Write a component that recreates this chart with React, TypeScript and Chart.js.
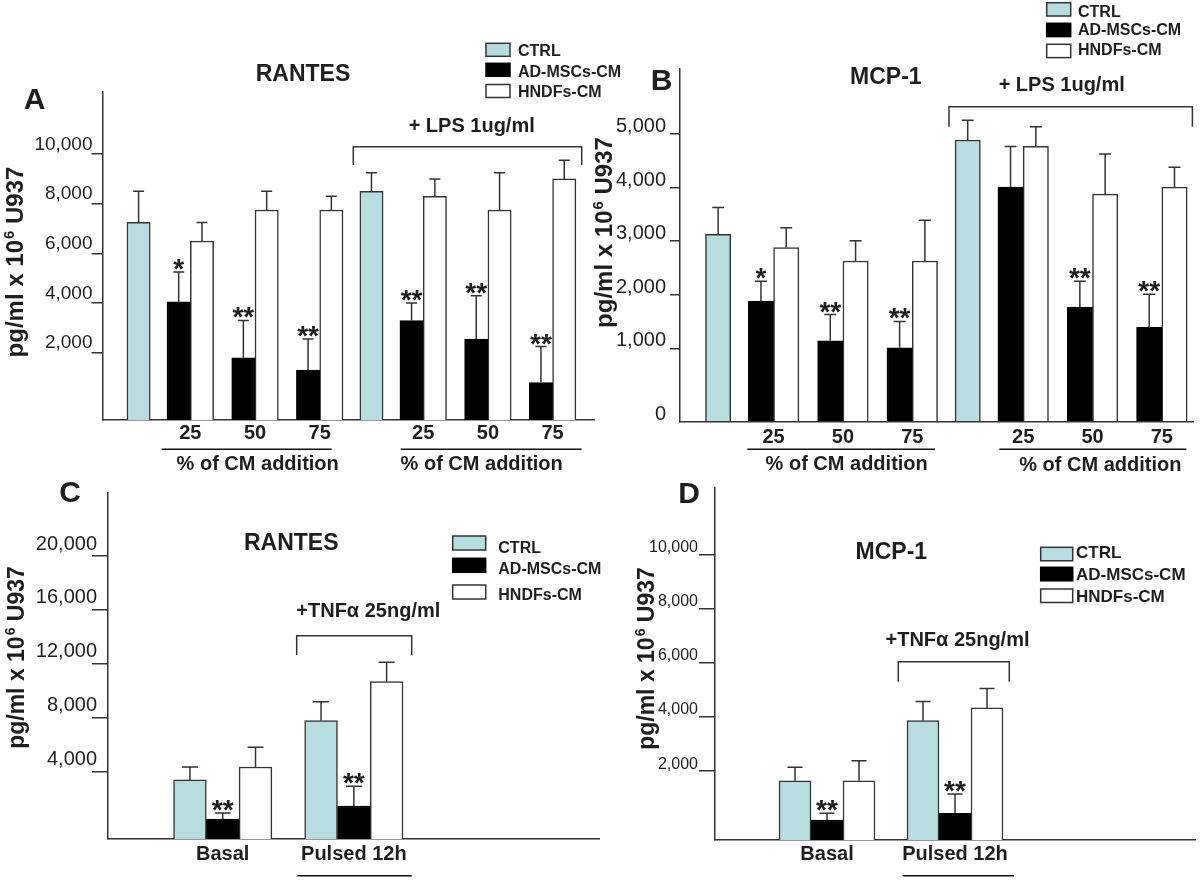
import React, { useEffect, useRef } from "react";
import { Chart, registerables } from "chart.js";

Chart.register(...registerables);

const FONT = "'Liberation Sans', Arial, Helvetica, sans-serif";
const INK = "#1e1e1e";
const AXIS = "#333333";
const CTRL_FILL = "#b7dde0";

const SERIES_NAMES = ["CTRL", "AD-MSCs-CM", "HNDFs-CM"];

// ---------- Panel A: RANTES (basal / + LPS) ----------
const A_CM_LABELS = ["25", "50", "75"];
const A_CTRL = [7250, 8500];
const A_CTRL_SD = [1250, 750];
const A_ADMSC = [4050, 1800, 1300, 3300, 2550, 800];
const A_ADMSC_SD = [1200, 1500, 1250, 700, 1750, 1450];
const A_HNDF = [6500, 7750, 7750, 8300, 7750, 9000];
const A_HNDF_SD = [750, 750, 550, 700, 1500, 750];
const A_SIG = ["*", "**", "**", "**", "**", "**"];
const A_Y_TICKS = [2000, 4000, 6000, 8000, 10000];

// ---------- Panel B: MCP-1 (basal / + LPS) ----------
const B_CM_LABELS = ["25", "50", "75"];
const B_CTRL = [3130, 4890];
const B_CTRL_SD = [500, 370];
const B_ADMSC = [1880, 1140, 1010, 4010, 1770, 1390];
const B_ADMSC_SD = [370, 490, 490, 760, 480, 620];
const B_HNDF = [2880, 2630, 2630, 4770, 3880, 4010];
const B_HNDF_SD = [370, 380, 760, 370, 750, 370];
const B_SIG = ["*", "**", "**", "", "**", "**"];
const B_Y_TICKS = [1000, 2000, 3000, 4000, 5000];

// ---------- Panel C: RANTES (TNFa) ----------
const C_GROUPS = ["Basal", "Pulsed 12h"];
const C_CTRL = [3370, 7770];
const C_CTRL_SD = [960, 1410];
const C_ADMSC = [470, 1430];
const C_ADMSC_SD = [440, 1470];
const C_HNDF = [4330, 10670];
const C_HNDF_SD = [1470, 1440];
const C_SIG = ["**", "**"];
const C_Y_TICKS = [4000, 8000, 12000, 16000, 20000];

// ---------- Panel D: MCP-1 (TNFa) ----------
const D_GROUPS = ["Basal", "Pulsed 12h"];
const D_CTRL = [1650, 3870];
const D_CTRL_SD = [500, 710];
const D_ADMSC = [200, 450];
const D_ADMSC_SD = [250, 710];
const D_HNDF = [1650, 4340];
const D_HNDF_SD = [740, 720];
const D_SIG = ["**", "**"];
const D_Y_TICKS = [2000, 4000, 6000, 8000, 10000];

type Cell = number | null;
type Slots = {
  labels: string[];
  ctrl: Cell[]; ctrlSd: Cell[];
  ad: Cell[]; adSd: Cell[];
  hndf: Cell[]; hndfSd: Cell[];
  sig: (string | null)[];
};

function emptySlots(n: number): Slots {
  const mk = () => new Array(n).fill(null);
  return {
    labels: new Array(n).fill(""),
    ctrl: mk(), ctrlSd: mk(), ad: mk(), adSd: mk(), hndf: mk(), hndfSd: mk(), sig: mk(),
  };
}

// layout grid: a CTRL bar, then pairs of (AD, HNDF) bars for each % of CM
function buildLpsSlots(n: number, first: number, cm: string[], ctrl: number[], ctrlSd: number[],
  ad: number[], adSd: number[], hndf: number[], hndfSd: number[], sig: string[]): Slots {
  const s = emptySlots(n);
  let idx = first;
  let k = 0;
  for (let b = 0; b < ctrl.length; b++) {
    s.ctrl[idx] = ctrl[b];
    s.ctrlSd[idx] = ctrlSd[b];
    idx += 8;
    for (let j = 0; j < cm.length; j++) {
      s.labels[idx] = cm[j];
      s.ad[idx] = ad[k]; s.adSd[idx] = adSd[k];
      s.hndf[idx] = hndf[k]; s.hndfSd[idx] = hndfSd[k];
      s.sig[idx] = sig[k] || null;
      k++;
      idx += j < cm.length - 1 ? 10 : 8;
    }
  }
  return s;
}

function buildGroupSlots(n: number, first: number, step: number, groups: string[], ctrl: number[], ctrlSd: number[],
  ad: number[], adSd: number[], hndf: number[], hndfSd: number[], sig: string[]): Slots {
  const s = emptySlots(n);
  groups.forEach((g, i) => {
    const idx = first + i * step;
    s.labels[idx] = g;
    s.ctrl[idx] = ctrl[i]; s.ctrlSd[idx] = ctrlSd[i];
    s.ad[idx] = ad[i]; s.adSd[idx] = adSd[i];
    s.hndf[idx] = hndf[i]; s.hndfSd[idx] = hndfSd[i];
    s.sig[idx] = sig[i] || null;
  });
  return s;
}

type PanelCfg = {
  key: string;
  canvas: { x: number; y: number; w: number; h: number };
  area: { L: number; T: number; B: number; unit: number; n: number };
  slots: Slots;
  yMin: number; yMax: number; yTicks: number[]; zeroAtMin: boolean;
  barThickness: number;
  yTickFont: number; yTickLH: number; yTickLen: number; yTickPad: number;
  xFont: number; xPad: number;
  cap: number;
  letter: { t: string; x: number; y: number };
  title: { t: string; x: number; y: number };
  legend: { bx: number; bw: number; bh: number; tops: number[]; tx: number; ty: number[]; font: number };
  bracket: { x1: number; x2: number; y: number; y2: number };
  cond: { t: string; x: number; y: number };
  underlines: { x1: number; x2: number; y: number }[];
  underTexts: { t: string; x: number; y: number }[];
  yTitle: { x: number; y: number; size: number };
  sigFont: number;
};

function fmt(v: number) {
  return v.toLocaleString("en-US");
}

function drawText(ctx: CanvasRenderingContext2D, s: string, x: number, y: number, size: number,
  bold: boolean, align: CanvasTextAlign = "center", baseline: CanvasTextBaseline = "middle") {
  ctx.font = `${bold ? "bold " : ""}${size}px ${FONT}`;
  ctx.textAlign = align;
  ctx.textBaseline = baseline;
  ctx.fillStyle = INK;
  ctx.fillText(s, x, y);
}

function makePlugin(p: PanelCfg) {
  const ox = p.canvas.x, oy = p.canvas.y;
  return {
    id: "annot" + p.key,
    afterDatasetsDraw(chart: any) {
      const ctx: CanvasRenderingContext2D = chart.ctx;
      const yScale = chart.scales.y;
      const sds = [p.slots.ctrlSd, p.slots.adSd, p.slots.hndfSd];
      ctx.save();
      ctx.strokeStyle = AXIS;
      ctx.lineWidth = 1.5;
      chart.data.datasets.forEach((ds: any, di: number) => {
        const meta = chart.getDatasetMeta(di);
        meta.data.forEach((el: any, i: number) => {
          const v = ds.data[i];
          const sd = sds[di][i];
          if (v == null || sd == null) return;
          const x = el.x;
          const yTop = yScale.getPixelForValue(v + sd);
          ctx.beginPath();
          ctx.moveTo(x, el.y);
          ctx.lineTo(x, yTop);
          ctx.moveTo(x - p.cap, yTop);
          ctx.lineTo(x + p.cap, yTop);
          ctx.stroke();
          if (di === 1 && p.slots.sig[i]) {
            drawText(ctx, p.slots.sig[i] as string, x, yTop + 6, p.sigFont, true, "center", "alphabetic");
          }
        });
      });
      ctx.restore();
    },
    afterDraw(chart: any) {
      const ctx: CanvasRenderingContext2D = chart.ctx;
      ctx.save();
      // panel letter and title
      drawText(ctx, p.letter.t, p.letter.x - ox, p.letter.y - oy, 30, true);
      drawText(ctx, p.title.t, p.title.x - ox, p.title.y - oy, 23, true);
      // legend
      const fills = [CTRL_FILL, "#000000", "#ffffff"];
      SERIES_NAMES.forEach((name, i) => {
        const bx = p.legend.bx - ox, by = p.legend.tops[i] - oy;
        ctx.fillStyle = fills[i];
        ctx.fillRect(bx, by, p.legend.bw, p.legend.bh);
        ctx.strokeStyle = i === 1 ? "#000" : AXIS;
        ctx.lineWidth = 1.5;
        ctx.strokeRect(bx, by, p.legend.bw, p.legend.bh);
        drawText(ctx, name, p.legend.tx - ox, p.legend.ty[i] - oy, p.legend.font, true, "left");
      });
      // bracket + condition
      ctx.strokeStyle = AXIS;
      ctx.lineWidth = 1.5;
      const b = p.bracket;
      ctx.beginPath();
      ctx.moveTo(b.x1 - ox, b.y2 - oy);
      ctx.lineTo(b.x1 - ox, b.y - oy);
      ctx.lineTo(b.x2 - ox, b.y - oy);
      ctx.lineTo(b.x2 - ox, b.y2 - oy);
      ctx.stroke();
      drawText(ctx, p.cond.t, p.cond.x - ox, p.cond.y - oy, 20, true);
      // underlines and texts below the axis
      ctx.strokeStyle = "#111";
      p.underlines.forEach((u) => {
        ctx.beginPath();
        ctx.moveTo(u.x1 - ox, u.y - oy);
        ctx.lineTo(u.x2 - ox, u.y - oy);
        ctx.stroke();
      });
      p.underTexts.forEach((t) => drawText(ctx, t.t, t.x - ox, t.y - oy, 20, true));
      // rotated y title with superscript
      const yt = p.yTitle;
      ctx.translate(yt.x - ox, yt.y - oy);
      ctx.rotate(-Math.PI / 2);
      const s1 = "pg/ml x 10", s2 = "6", s3 = " U937";
      const big = `bold ${yt.size}px ${FONT}`;
      const small = `bold ${Math.round(yt.size * 0.62)}px ${FONT}`;
      ctx.font = big;
      const w1 = ctx.measureText(s1).width;
      const w3 = ctx.measureText(s3).width;
      ctx.font = small;
      const w2 = ctx.measureText(s2).width;
      let x = -(w1 + w2 + w3) / 2;
      ctx.fillStyle = INK;
      ctx.textAlign = "left";
      ctx.textBaseline = "alphabetic";
      ctx.font = big;
      ctx.fillText(s1, x, 0);
      x += w1;
      ctx.font = small;
      ctx.fillText(s2, x + 1, -yt.size * 0.38);
      x += w2 + 1;
      ctx.font = big;
      ctx.fillText(s3, x, 0);
      ctx.restore();
    },
  };
}

function makeConfig(p: PanelCfg): any {
  const s = p.slots;
  const R = p.area.L + p.area.n * p.area.unit;
  const common = { barThickness: p.barThickness, skipNull: true, borderWidth: 1.5, borderSkipped: "start", base: p.yMin };
  return {
    type: "bar",
    data: {
      labels: s.labels,
      datasets: [
        { label: SERIES_NAMES[0], data: s.ctrl, backgroundColor: CTRL_FILL, borderColor: AXIS, ...common },
        { label: SERIES_NAMES[1], data: s.ad, backgroundColor: "#000000", borderColor: "#000000", ...common },
        { label: SERIES_NAMES[2], data: s.hndf, backgroundColor: "#ffffff", borderColor: AXIS, ...common },
      ],
    },
    options: {
      responsive: false,
      maintainAspectRatio: false,
      animation: false,
      devicePixelRatio: 1,
      events: [],
      layout: {
        padding: { left: 0, top: p.area.T - p.canvas.y, right: p.canvas.x + p.canvas.w - R, bottom: 0 },
      },
      plugins: { legend: { display: false }, tooltip: { enabled: false }, title: { display: false } },
      scales: {
        x: {
          type: "category",
          offset: true,
          grid: { display: false, drawTicks: false },
          border: { display: true, color: AXIS, width: 1.5 },
          ticks: {
            autoSkip: false, maxRotation: 0, minRotation: 0, padding: p.xPad, color: INK,
            font: { family: FONT, size: p.xFont, weight: "bold", lineHeight: 1.2 },
          },
          afterFit: (sc: any) => {
            sc.height = p.canvas.y + p.canvas.h - p.area.B;
            sc.paddingLeft = 0; sc.paddingRight = 0;
          },
        },
        y: {
          type: "linear",
          min: p.yMin,
          max: p.yMax,
          grid: {
            display: true, drawOnChartArea: false, drawTicks: true, tickLength: p.yTickLen, lineWidth: 1.5,
            color: (c: any) => (c.tick && c.tick.value === p.yMin ? "rgba(0,0,0,0)" : AXIS),
          },
          border: { display: true, color: AXIS, width: 1.5 },
          afterBuildTicks: (sc: any) => {
            const vals = p.zeroAtMin ? [p.yMin, ...p.yTicks] : p.yTicks;
            sc.ticks = vals.map((v) => ({ value: v }));
          },
          ticks: {
            autoSkip: false, padding: p.yTickPad, color: INK,
            font: { family: FONT, size: p.yTickFont, lineHeight: p.yTickLH },
            callback: (v: number) => [v === p.yMin ? "0" : fmt(v), ""],
          },
          afterFit: (sc: any) => {
            sc.width = p.area.L - p.canvas.x;
            sc.paddingTop = 0; sc.paddingBottom = 0;
          },
        },
      },
    },
    plugins: [makePlugin(p)],
  };
}

const PANELS: PanelCfg[] = [
  {
    key: "A",
    canvas: { x: 0, y: 0, w: 640, h: 480 },
    area: { L: 103, T: 92, B: 420, unit: 6.469, n: 76 },
    slots: buildLpsSlots(76, 5, A_CM_LABELS, A_CTRL, A_CTRL_SD, A_ADMSC, A_ADMSC_SD, A_HNDF, A_HNDF_SD, A_SIG),
    yMin: -708, yMax: 12500, yTicks: A_Y_TICKS, zeroAtMin: false,
    barThickness: 23.3,
    yTickFont: 19, yTickLH: 1.0, yTickLen: 11.5, yTickPad: -1,
    xFont: 20, xPad: 1, cap: 5.5,
    letter: { t: "A", x: 34.5, y: 101 },
    title: { t: "RANTES", x: 303, y: 75 },
    legend: { bx: 486, bw: 24, bh: 13, tops: [43.3, 63.3, 84.5], tx: 518, ty: [52, 72.5, 92.5], font: 16 },
    bracket: { x1: 353.3, x2: 581.7, y: 146.7, y2: 165 },
    cond: { t: "+ LPS 1ug/ml", x: 471.7, y: 126 },
    underlines: [{ x1: 161.7, x2: 331.7, y: 449.3 }, { x1: 400.7, x2: 581.7, y: 449.3 }],
    underTexts: [{ t: "% of CM addition", x: 257.7, y: 464 }, { t: "% of CM addition", x: 481.7, y: 464 }],
    yTitle: { x: 23, y: 262.5, size: 24 },
    sigFont: 28,
  },
  {
    key: "B",
    canvas: { x: 580, y: 0, w: 620, h: 480 },
    area: { L: 680, T: 68.3, B: 421.7, unit: 6.933, n: 74 },
    slots: buildLpsSlots(74, 5, B_CM_LABELS, B_CTRL, B_CTRL_SD, B_ADMSC, B_ADMSC_SD, B_HNDF, B_HNDF_SD, B_SIG),
    yMin: -372, yMax: 6230, yTicks: B_Y_TICKS, zeroAtMin: true,
    barThickness: 25.3,
    yTickFont: 20, yTickLH: 0.75, yTickLen: 10, yTickPad: 4,
    xFont: 20, xPad: 4, cap: 6,
    letter: { t: "B", x: 661.7, y: 81.7 },
    title: { t: "MCP-1", x: 885.8, y: 77.5 },
    legend: { bx: 1046.7, bw: 24, bh: 13.3, tops: [2.7, 23.3, 44.3], tx: 1078, ty: [12.5, 30.5, 50.5], font: 16 },
    bracket: { x1: 949, x2: 1192.4, y: 106.7, y2: 126.7 },
    cond: { t: "+ LPS 1ug/ml", x: 1061.7, y: 85.5 },
    underlines: [{ x1: 747.3, x2: 935, y: 449.3 }, { x1: 999.3, x2: 1186.3, y: 449.3 }],
    underTexts: [{ t: "% of CM addition", x: 846.7, y: 464 }, { t: "% of CM addition", x: 1100.3, y: 465 }],
    yTitle: { x: 612, y: 233, size: 24 },
    sigFont: 28,
  },
  {
    key: "C",
    canvas: { x: 0, y: 480, w: 640, h: 402 },
    area: { L: 108, T: 492.7, B: 839, unit: 32.78, n: 15 },
    slots: buildGroupSlots(15, 3, 4, C_GROUPS, C_CTRL, C_CTRL_SD, C_ADMSC, C_ADMSC_SD, C_HNDF, C_HNDF_SD, C_SIG),
    yMin: -1018, yMax: 24700, yTicks: C_Y_TICKS, zeroAtMin: false,
    barThickness: 32.78,
    yTickFont: 20, yTickLH: 1.2, yTickLen: 16, yTickPad: -5,
    xFont: 20, xPad: 3, cap: 8,
    letter: { t: "C", x: 70, y: 494 },
    title: { t: "RANTES", x: 291.2, y: 543.3 },
    legend: { bx: 452.7, bw: 33, bh: 14, tops: [536, 558.3, 585], tx: 498.3, ty: [548.5, 570, 596], font: 16 },
    bracket: { x1: 296.7, x2: 411.7, y: 635.7, y2: 655 },
    cond: { t: "+TNFα 25ng/ml", x: 368.3, y: 611 },
    underlines: [{ x1: 297.3, x2: 411.7, y: 875.7 }],
    underTexts: [],
    yTitle: { x: 24, y: 658, size: 23 },
    sigFont: 28,
  },
  {
    key: "D",
    canvas: { x: 600, y: 480, w: 600, h: 402 },
    area: { L: 715, T: 488, B: 840, unit: 32, n: 15 },
    slots: buildGroupSlots(15, 3, 4, D_GROUPS, D_CTRL, D_CTRL_SD, D_ADMSC, D_ADMSC_SD, D_HNDF, D_HNDF_SD, D_SIG),
    yMin: -539, yMax: 12460, yTicks: D_Y_TICKS, zeroAtMin: false,
    barThickness: 32,
    yTickFont: 16, yTickLH: 0.875, yTickLen: 16, yTickPad: 1,
    xFont: 20, xPad: 2, cap: 7.5,
    letter: { t: "D", x: 689, y: 495 },
    title: { t: "MCP-1", x: 891.3, y: 552.5 },
    legend: { bx: 1040.7, bw: 32, bh: 13.5, tops: [547.3, 567.3, 589], tx: 1076, ty: [553, 575, 597], font: 17 },
    bracket: { x1: 898.3, x2: 1009.3, y: 661.7, y2: 681.7 },
    cond: { t: "+TNFα 25ng/ml", x: 957.5, y: 640.5 },
    underlines: [{ x1: 902.7, x2: 1014, y: 875.7 }],
    underTexts: [],
    yTitle: { x: 654, y: 659, size: 23 },
    sigFont: 28,
  },
];

function Panel({ cfg }: { cfg: PanelCfg }) {
  const ref = useRef<HTMLCanvasElement>(null);
  useEffect(() => {
    if (!ref.current) return;
    const chart = new Chart(ref.current, makeConfig(cfg));
    return () => chart.destroy();
  }, [cfg]);
  const c = cfg.canvas;
  return (
    <canvas
      ref={ref}
      width={c.w}
      height={c.h}
      style={{ position: "absolute", left: c.x, top: c.y, width: c.w, height: c.h }}
    />
  );
}

export default function App() {
  return (
    <div style={{ position: "absolute", left: 0, top: 0, width: 1200, height: 882, background: "#ffffff", overflow: "hidden" }}>
      {PANELS.map((p) => (
        <Panel key={p.key} cfg={p} />
      ))}
    </div>
  );
}
